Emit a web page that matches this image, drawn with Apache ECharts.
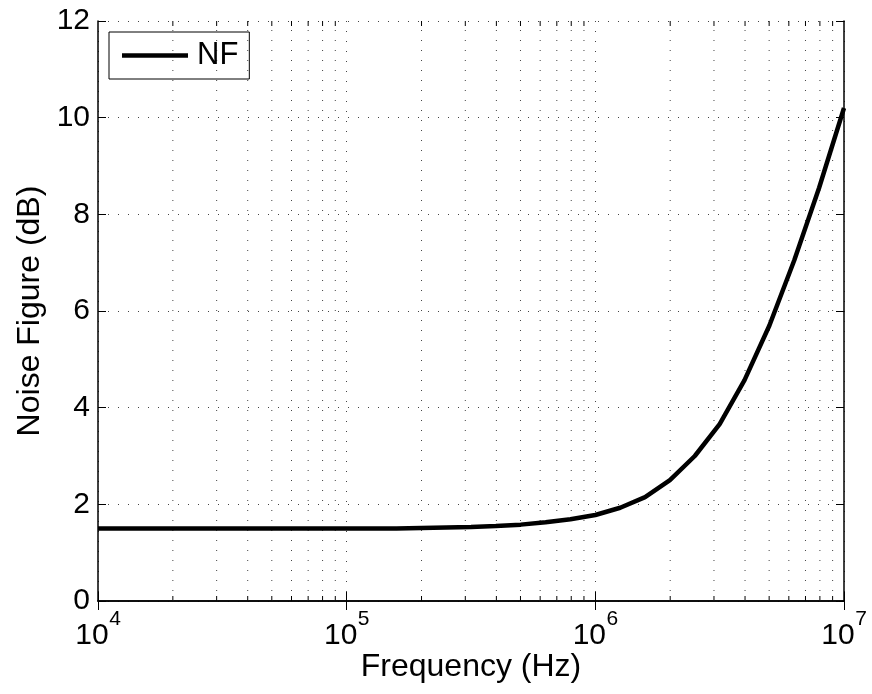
<!DOCTYPE html>
<html>
<head>
<meta charset="utf-8">
<script src="https://cdn.jsdelivr.net/npm/echarts@6/dist/echarts.min.js"></script>
<style>
  html, body { margin: 0; padding: 0; background: #fff; }
  #chart { width: 872px; height: 694px; }
</style>
</head>
<body>
<div id="chart"></div>
<script>
  // frequency samples (Hz)
  var freqs = [
    1e4, 1.259e4, 1.585e4, 1.995e4, 2.512e4, 3.162e4, 3.981e4, 5.012e4, 6.31e4, 7.943e4,
    1e5, 1.259e5, 1.585e5, 1.995e5, 2.512e5, 3.162e5, 3.981e5, 5.012e5, 6.31e5, 7.943e5,
    1e6, 1.259e6, 1.585e6, 1.995e6, 2.512e6, 3.162e6, 3.981e6, 5.012e6, 6.31e6, 7.943e6,
    1e7
  ];
  // noise figure (dB)
  var nfValues = [
    1.50, 1.50, 1.50, 1.50, 1.50, 1.50, 1.50, 1.50, 1.50, 1.50,
    1.50, 1.50, 1.50, 1.51, 1.52, 1.53, 1.55, 1.58, 1.63, 1.69,
    1.78, 1.93, 2.15, 2.50, 3.00, 3.66, 4.57, 5.70, 7.05, 8.55,
    10.2
  ];
  var yTicks = [0, 2, 4, 6, 8, 10, 12];
  var decades = [1e4, 1e5, 1e6];
  var minorMult = [2, 3, 4, 5, 6, 7, 8, 9];

  var FONT = 'Liberation Sans, Arial, sans-serif';

  var minorFreqs = [];
  decades.forEach(function(d) {
    minorMult.forEach(function(m) { minorFreqs.push(d * m); });
  });

  var chart = echarts.init(document.getElementById('chart'));

  // exponent on its own short line above, pushed right of the "10"
  function supLabel(v) {
    var e = Math.round(Math.log(v) / Math.LN10);
    return '{s|' + e + '}\n{b|10}';
  }

  var xRich = {
    s: { fontSize: 21, fontFamily: FONT, color: '#000', lineHeight: 4, padding: [0, 0, 0, 34] },
    b: { fontSize: 30, fontFamily: FONT, color: '#000', lineHeight: 30, padding: [0, 12, 0, 0] }
  };

  var dotted = { color: '#444', width: 1, type: [1, 9] };

  var option = {
    animation: false,
    backgroundColor: '#fff',
    grid: { left: 98, right: 28, top: 21, bottom: 93, containLabel: false },
    legend: {
      left: 109, top: 32,
      data: [{ name: 'NF', icon: 'rect' }],
      itemWidth: 66, itemHeight: 4.5,
      padding: [8, 11, 8, 13],
      borderColor: '#000', borderWidth: 1,
      textStyle: { fontSize: 31, fontFamily: FONT, color: '#000', padding: [0, 0, 0, 4] }
    },
    xAxis: [{
      type: 'log', logBase: 10, min: 1e4, max: 1e7,
      name: 'Frequency (Hz)', nameLocation: 'middle', nameGap: 50, nameMoveOverlap: false,
      nameTextStyle: { fontSize: 32, fontFamily: FONT, color: '#000' },
      axisLine: { lineStyle: { color: '#000', width: 1.5 } },
      axisTick: { inside: true, length: 9, lineStyle: { color: '#000' } },
      axisLabel: { formatter: supLabel, rich: xRich, margin: 16, align: 'center' },
      splitLine: { show: true, lineStyle: dotted }
    }, {
      type: 'log', logBase: 10, min: 1e4, max: 1e7, position: 'top',
      axisLine: { lineStyle: { color: '#000', width: 1.5 } },
      axisTick: { inside: true, length: 9, lineStyle: { color: '#000' } },
      axisLabel: { show: false },
      splitLine: { show: false }
    }],
    yAxis: [{
      type: 'value', min: 0, max: 12, interval: 2,
      name: 'Noise Figure (dB)', nameLocation: 'middle', nameGap: 52, nameMoveOverlap: false,
      nameTextStyle: { fontSize: 32, fontFamily: FONT, color: '#000' },
      axisLine: { show: true, lineStyle: { color: '#000', width: 1.5 } },
      axisTick: { show: true, inside: true, length: 8, lineStyle: { color: '#000' } },
      axisLabel: {
        fontSize: 30, fontFamily: FONT, color: '#000', margin: 8,
        formatter: function(v) { return yTicks.indexOf(v) >= 0 ? String(v) : ''; }
      },
      splitLine: { show: true, lineStyle: dotted }
    }, {
      type: 'value', min: 0, max: 12, interval: 2, position: 'right',
      axisLine: { show: true, lineStyle: { color: '#000', width: 1.5 } },
      axisTick: { show: true, inside: true, length: 8, lineStyle: { color: '#000' } },
      axisLabel: { show: false },
      splitLine: { show: false }
    }],
    series: [{
      // minor log grid lines + minor ticks on bottom and top
      type: 'custom',
      silent: true,
      xAxisIndex: 0, yAxisIndex: 0,
      data: minorFreqs.map(function(f) { return [f]; }),
      renderItem: function(params, api) {
        var f = api.value(0);
        var p0 = api.coord([f, 0]);
        var p1 = api.coord([f, 12]);
        return {
          type: 'group',
          children: [{
            type: 'line',
            shape: { x1: p0[0], y1: p0[1], x2: p1[0], y2: p1[1] },
            style: { stroke: '#444', lineWidth: 1, lineDash: [1, 9] }
          }, {
            type: 'line',
            shape: { x1: p0[0], y1: p0[1], x2: p0[0], y2: p0[1] - 5 },
            style: { stroke: '#000', lineWidth: 1 }
          }, {
            type: 'line',
            shape: { x1: p1[0], y1: p1[1], x2: p1[0], y2: p1[1] + 5 },
            style: { stroke: '#000', lineWidth: 1 }
          }]
        };
      },
      z: 1
    }, {
      name: 'NF',
      type: 'line',
      xAxisIndex: 0, yAxisIndex: 0,
      data: freqs.map(function(f, i) { return [f, nfValues[i]]; }),
      symbol: 'none',
      lineStyle: { color: '#000', width: 4.5 },
      itemStyle: { color: '#000' },
      z: 5
    }]
  };

  chart.setOption(option);
</script>
</body>
</html>
